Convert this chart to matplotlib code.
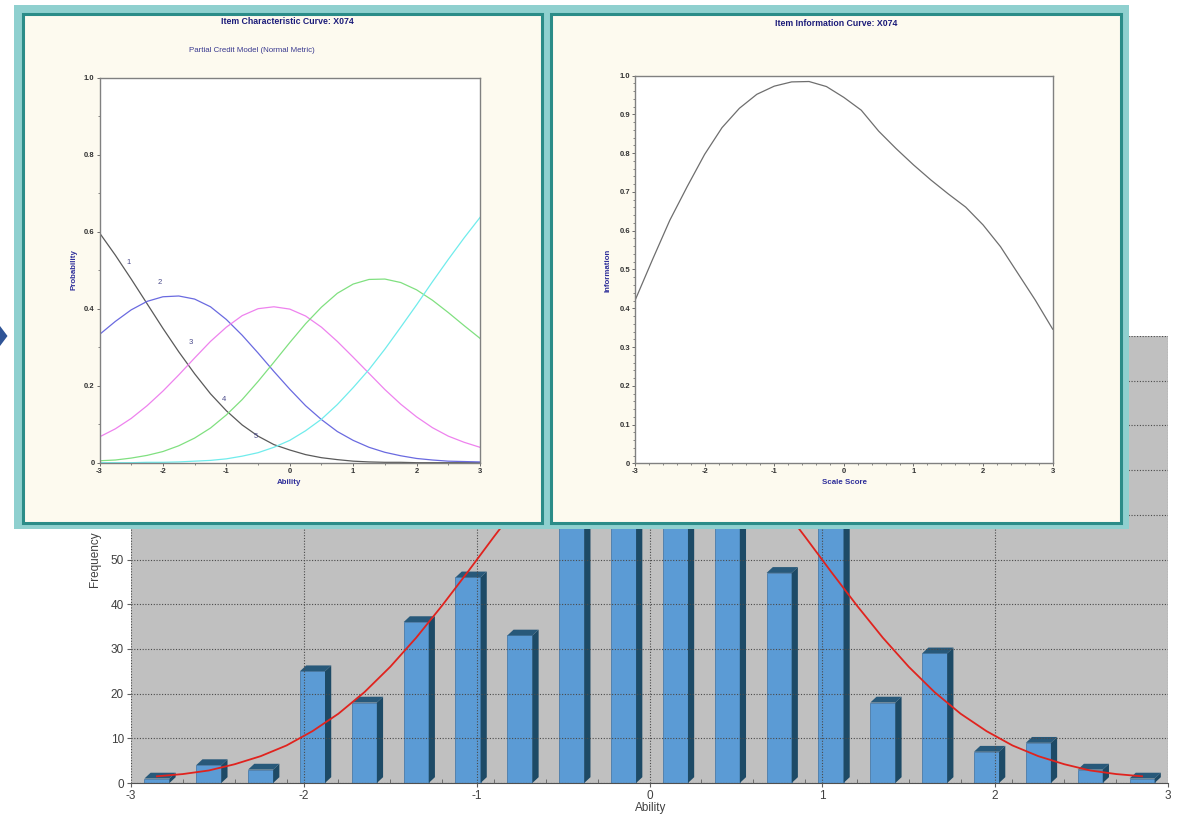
import matplotlib
matplotlib.use("Agg")
import matplotlib.pyplot as plt
import matplotlib.ticker as tck
from matplotlib.patches import Rectangle, Polygon

plt.rcParams["font.family"] = ["Liberation Sans", "DejaVu Sans"]
plt.rcParams["axes.unicode_minus"] = False

W, H = 1180, 814

# Frequency histogram of ability (bins of width 0.3)
bin_mid = [-2.85, -2.55, -2.25, -1.95, -1.65, -1.35, -1.05, -0.75, -0.45, -0.15,
           0.15, 0.45, 0.75, 1.05, 1.35, 1.65, 1.95, 2.25, 2.55, 2.85]
freq = [1, 4, 3, 25, 18, 36, 46, 33, 72, 86, 90, 80, 47, 64, 18, 29, 7, 9, 3, 1]

# red normal curve
curve_x = [-2.85, -2.7, -2.55, -2.4, -2.25, -2.1, -1.95, -1.8, -1.65, -1.5,
           -1.35, -1.2, -1.05, -0.9, -0.75, -0.6, -0.45, -0.3, -0.15, 0,
           0.15, 0.3, 0.45, 0.6, 0.75, 0.9, 1.05, 1.2, 1.35, 1.5,
           1.65, 1.8, 1.95, 2.1, 2.25, 2.4, 2.55, 2.7, 2.85]
curve_y = [1.5, 2.0, 2.8, 4.2, 6.0, 8.4, 11.6, 15.5, 20.3, 26.0,
           32.5, 39.7, 47.3, 55.1, 62.7, 69.6, 75.6, 80.2, 83.0, 84.0,
           83.0, 80.2, 75.6, 69.6, 62.7, 55.1, 47.3, 39.7, 32.5, 26.0,
           20.3, 15.5, 11.6, 8.4, 6.0, 4.2, 2.8, 2.0, 1.5]

# Item characteristic curves (5 categories)
theta = [-3, -2.75, -2.5, -2.25, -2, -1.75, -1.5, -1.25, -1, -0.75, -0.5, -0.25, 0,
         0.25, 0.5, 0.75, 1, 1.25, 1.5, 1.75, 2, 2.25, 2.5, 2.75, 3]
cat1 = [0.597, 0.539, 0.477, 0.413, 0.349, 0.288, 0.231, 0.179, 0.135, 0.098, 0.069, 0.047, 0.033,
        0.021, 0.013, 0.008, 0.004, 0.002, 0.001, 0.001, 0.0, 0.0, 0.0, 0.0, 0.0]
cat2 = [0.333, 0.367, 0.397, 0.419, 0.431, 0.433, 0.425, 0.405, 0.372, 0.331, 0.285, 0.237, 0.191,
        0.148, 0.112, 0.081, 0.058, 0.040, 0.027, 0.018, 0.011, 0.007, 0.004, 0.003, 0.002]
cat3 = [0.067, 0.088, 0.115, 0.148, 0.186, 0.228, 0.272, 0.315, 0.352, 0.382, 0.400, 0.405, 0.399,
        0.381, 0.352, 0.315, 0.274, 0.232, 0.190, 0.152, 0.119, 0.091, 0.069, 0.053, 0.040]
cat4 = [0.005, 0.007, 0.012, 0.019, 0.029, 0.044, 0.064, 0.090, 0.124, 0.164, 0.211, 0.261, 0.312,
        0.361, 0.404, 0.440, 0.464, 0.476, 0.477, 0.468, 0.449, 0.422, 0.390, 0.356, 0.323]
cat5 = [0.000, 0.000, 0.000, 0.001, 0.001, 0.002, 0.004, 0.006, 0.010, 0.017, 0.026, 0.040, 0.058,
        0.083, 0.113, 0.151, 0.195, 0.242, 0.295, 0.352, 0.410, 0.470, 0.528, 0.584, 0.637]
cat_labels = ["1", "2", "3", "4", "5"]
label_x = [-2.54, -2.05, -1.56, -1.04, -0.54]
label_y = [0.52, 0.467, 0.311, 0.165, 0.067]

# Item information curve
info = [0.42, 0.525, 0.627, 0.714, 0.797, 0.866, 0.916, 0.952, 0.973, 0.984, 0.985, 0.972, 0.944,
        0.911, 0.857, 0.812, 0.77, 0.731, 0.695, 0.661, 0.615, 0.559, 0.49, 0.421, 0.346]


def px_box(x0, y0, x1, y1):
    return [x0 / W, 1 - y1 / H, (x1 - x0) / W, (y1 - y0) / H]


fig = plt.figure(figsize=(W / 100, H / 100), dpi=100)
fig.patch.set_facecolor("white")

# ---- background histogram ----
ax = fig.add_axes(px_box(131, 336, 1168, 783), zorder=0)
ax.set_facecolor("#c0c0c0")
bw, dx, dy = 0.145, 0.036, 1.3
ax.bar(bin_mid, freq, width=bw, color="#5b9bd5", edgecolor="#3d72a3", linewidth=0.5, zorder=1)
for c, h in zip(bin_mid, freq):
    x0, x1 = c - bw / 2, c + bw / 2
    ax.add_patch(Polygon([(x1, 0), (x1 + dx, dy), (x1 + dx, h + dy), (x1, h)],
                         closed=True, fc="#1d4a66", ec="none", zorder=1))
    ax.add_patch(Polygon([(x0, h), (x0 + dx, h + dy), (x1 + dx, h + dy), (x1, h)],
                         closed=True, fc="#28597a", ec="none", zorder=1))
ax.plot(curve_x, curve_y, color="#e0231e", lw=1.3, zorder=4)
ax.set_xlim(-3, 3)
ax.set_ylim(0, 100)
ax.set_xticks(range(-3, 4))
ax.set_yticks(range(0, 101, 10))
ax.xaxis.set_minor_locator(tck.MultipleLocator(0.3))
ax.set_axisbelow(False)
ax.grid(True, color="#4a4a4a", linestyle=(0, (1, 1.5)), linewidth=0.8)
for s in ["top", "left", "right"]:
    ax.spines[s].set_visible(False)
ax.spines["bottom"].set_color("#505050")
ax.tick_params(axis="both", which="major", length=3, color="#606060", labelsize=8.5,
               labelcolor="#404040", pad=2)
ax.tick_params(axis="x", which="minor", direction="in", length=3, color="#606060")

# ---- overlay panels in pixel coordinates ----
ov = fig.add_axes([0, 0, 1, 1], zorder=1)
ov.set_xlim(0, W)
ov.set_ylim(H, 0)
ov.axis("off")
ov.patch.set_alpha(0)
ov.add_patch(Rectangle((14, 5), 1115, 524, fc="#8fd0cf", ec="none"))
ov.add_patch(Rectangle((22.5, 14), 519, 508.5, fc="#fdfaef", ec="#2b8c88", lw=2.2))
ov.add_patch(Rectangle((550.5, 14), 570, 508.5, fc="#fdfaef", ec="#2b8c88", lw=2.2))
ov.add_patch(Polygon([(0, 326), (7.5, 336), (0, 346)], closed=True, fc="#2f5496", ec="none"))

navy = "#1c1c7a"
ov.text(287, 22, "Item Characteristic Curve: X074", ha="center", va="center",
        fontsize=6.3, fontweight="bold", color=navy)
ov.text(252, 50, "Partial Credit Model (Normal Metric)", ha="center", va="center",
        fontsize=5.7, color="#3a3a90")
ov.text(289, 483, "Ability", ha="center", va="center", fontsize=5.7, fontweight="bold", color="#2e2e9a")
ov.text(74, 270, "Probability", ha="center", va="center", rotation=90,
        fontsize=5.7, fontweight="bold", color="#2e2e9a")
ov.text(836, 23, "Item Information Curve: X074", ha="center", va="center",
        fontsize=6.3, fontweight="bold", color=navy)
ov.text(844, 483, "Scale Score", ha="center", va="center", fontsize=5.7, fontweight="bold", color="#2e2e9a")
ov.text(608, 270, "Information", ha="center", va="center", rotation=90,
        fontsize=5.7, fontweight="bold", color="#2e2e9a")
ov.text(95, 559, "Frequency", ha="center", va="center", rotation=90, fontsize=8.5, color="#404040")
ov.text(651, 808, "Ability", ha="center", va="center", fontsize=8.5, color="#404040")


def style_small(a, ylabels, yminor, xminor):
    a.set_facecolor("white")
    a.set_xlim(-3, 3)
    a.set_ylim(0, 1)
    a.set_xticks(range(-3, 4))
    a.set_xticklabels([str(v) for v in range(-3, 4)])
    a.set_yticks([float(v) for v in ylabels])
    a.set_yticklabels(ylabels)
    a.xaxis.set_minor_locator(tck.MultipleLocator(xminor))
    a.yaxis.set_minor_locator(tck.MultipleLocator(yminor))
    a.tick_params(which="major", length=2.5, width=0.6, color="#555555", labelsize=5.5,
                  labelcolor="#333333", pad=1)
    a.tick_params(which="minor", length=1.5, width=0.5, color="#555555")
    for lab in a.get_xticklabels() + a.get_yticklabels():
        lab.set_fontweight("bold")
    for s in a.spines.values():
        s.set_color("#808080")
        s.set_linewidth(1.0)


# ---- ICC panel ----
icc = fig.add_axes(px_box(99.5, 77.7, 480, 462.7), zorder=2)
icc.plot(theta, cat1, color="#5a5a5a", lw=0.9)
icc.plot(theta, cat2, color="#6a6ae0", lw=0.9)
icc.plot(theta, cat3, color="#ee82ee", lw=0.9)
icc.plot(theta, cat4, color="#80e080", lw=0.9)
icc.plot(theta, cat5, color="#70ecec", lw=0.9)
for t, lx, ly in zip(cat_labels, label_x, label_y):
    icc.text(lx, ly, t, fontsize=5.5, color="#4a4a8a", ha="center", va="center")
style_small(icc, ["0", "0.2", "0.4", "0.6", "0.8", "1.0"], 0.1, 0.5)

# ---- IIC panel ----
iic = fig.add_axes(px_box(635, 75.7, 1052.7, 463.3), zorder=2)
iic.plot(theta, info, color="#6e6e6e", lw=0.9)
style_small(iic, ["0", "0.1", "0.2", "0.3", "0.4", "0.5", "0.6", "0.7", "0.8", "0.9", "1.0"],
            0.02, 0.2)

fig.savefig("out.png", dpi=100)
